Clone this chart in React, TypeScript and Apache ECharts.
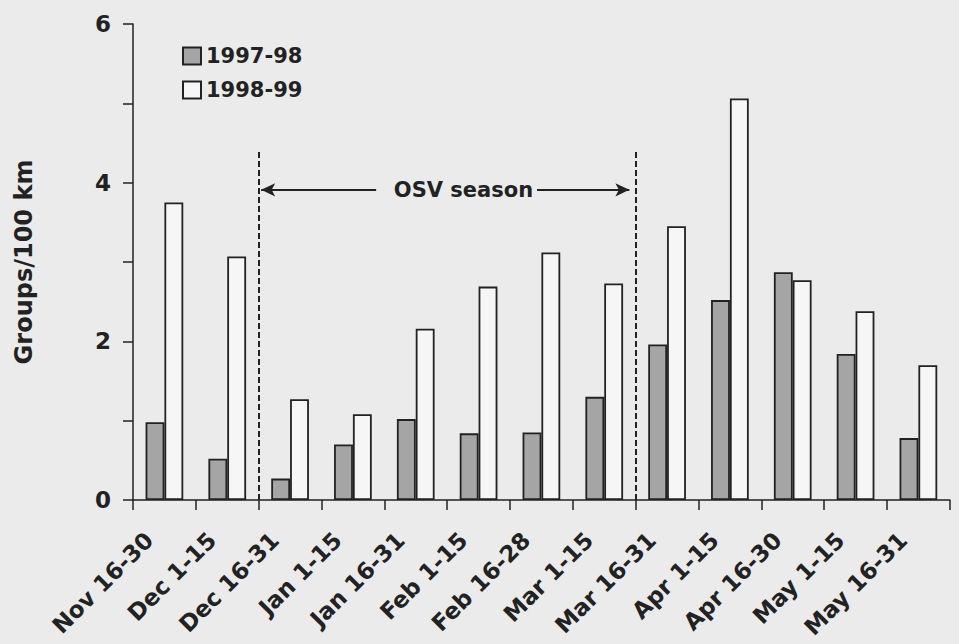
import React, { useEffect, useRef } from "react";
import * as echarts from "echarts";

const categories = [
  "Nov 16-30", "Dec 1-15", "Dec 16-31", "Jan 1-15", "Jan 16-31", "Feb 1-15",
  "Feb 16-28", "Mar 1-15", "Mar 16-31", "Apr 1-15", "Apr 16-30", "May 1-15", "May 16-31",
];
const season9798 = [0.98, 0.52, 0.27, 0.7, 1.02, 0.84, 0.85, 1.3, 1.96, 2.52, 2.87, 1.84, 0.78];
const season9899 = [3.75, 3.07, 1.27, 1.08, 2.16, 2.69, 3.12, 2.73, 3.45, 5.06, 2.77, 2.38, 1.7];
const seriesNames = ["1997-98", "1998-99"];
const yTicks = [0, 6, 2];
const osvStart = 2; // boundary index (Dec 16)
const osvEnd = 8; // boundary index (Mar 16)
const osvLabel = "OSV season";

const FONT = "'DejaVu Sans', 'Liberation Sans', Arial, sans-serif";

export default function App() {
  const ref = useRef<HTMLDivElement>(null);
  useEffect(() => {
    if (!ref.current) return;
    const chart = echarts.init(ref.current, null, { renderer: "svg" });
    const border = "#222";
    chart.setOption({
      animation: false,
      backgroundColor: "#ebebeb",
      textStyle: { fontFamily: FONT, fontWeight: "bold", color: "#222" },
      legend: {
        orient: "vertical",
        left: 182,
        top: 44,
        padding: 0,
        itemWidth: 18,
        itemHeight: 17,
        itemGap: 10,
        icon: "rect",
        data: seriesNames,
        textStyle: { fontFamily: FONT, fontWeight: "bold", fontSize: 21, color: "#222", lineHeight: 24 },
      },
      grid: { left: 133, top: 24, bottom: 144, right: -7, containLabel: false },
      xAxis: [
        {
          type: "category",
          data: categories,
          boundaryGap: true,
          axisLine: { lineStyle: { color: "#222", width: 1.5 } },
          axisTick: { show: true, interval: 0, length: 10, lineStyle: { color: "#222", width: 1.5 } },
          axisLabel: { show: false, interval: 0 },
          splitLine: { show: false },
        },
        {
          type: "value",
          min: 0,
          max: categories.length,
          interval: 1,
          position: "bottom",
          axisLine: { show: false },
          axisTick: { show: false },
          splitLine: { show: false },
          axisLabel: {
            show: true,
            rotate: 45,
            margin: 20,
            verticalAlign: "top",
            padding: [10, 0, 0, 0],
            lineHeight: 26,
            fontFamily: FONT,
            fontWeight: "bold",
            fontSize: 23,
            color: "#222",
            formatter: (v: number) => categories[Math.round(v)] ?? "",
          },
        },
      ],
      yAxis: {
        type: "value",
        min: yTicks[0],
        max: yTicks[1],
        interval: yTicks[2],
        name: "Groups/100 km",
        nameLocation: "middle",
        nameRotate: 90,
        nameGap: 97,
        nameTextStyle: { fontFamily: FONT, fontWeight: "bold", fontSize: 24, color: "#222" },
        axisLine: { show: true, lineStyle: { color: "#222", width: 1.5 } },
        axisTick: { show: true, length: 10, lineStyle: { color: "#222", width: 1.5 } },
        minorTick: { show: true, splitNumber: 2, length: 10, lineStyle: { color: "#222", width: 1.5 } },
        splitLine: { show: false },
        minorSplitLine: { show: false },
        axisLabel: {
          margin: 22,
          fontFamily: FONT,
          fontWeight: "bold",
          fontSize: 23,
          color: "#222",
        },
      },
      series: [
        {
          name: seriesNames[0],
          type: "bar",
          data: season9798,
          barGap: "0%",
          barCategoryGap: "40%",
          itemStyle: { color: "#a5a5a5", borderColor: border, borderWidth: 1.8 },
        },
        {
          name: seriesNames[1],
          type: "bar",
          data: season9899,
          barGap: "0%",
          barCategoryGap: "40%",
          itemStyle: { color: "#f6f6f6", borderColor: border, borderWidth: 1.8 },
        },
        {
          name: "annotations",
          type: "scatter",
          xAxisIndex: 1,
          data: [],
          silent: true,
          markLine: {
            silent: true,
            symbol: "none",
            label: { show: false },
            lineStyle: { color: "#222", width: 2, type: [6, 3] },
            data: [
              [{ coord: [osvStart, 0] }, { coord: [osvStart, 4.39] }],
              [{ coord: [osvEnd, 0] }, { coord: [osvEnd, 4.39] }],
              [
                { coord: [3.87, 3.91], symbol: "none", lineStyle: { type: "solid", width: 1.8 } },
                { coord: [osvStart + 0.04, 3.91], symbol: "arrow", symbolSize: [10, 14], lineStyle: { type: "solid", width: 1.8 } },
              ],
              [
                { coord: [6.43, 3.91], symbol: "none", lineStyle: { type: "solid", width: 1.8 } },
                { coord: [osvEnd - 0.1, 3.91], symbol: "arrow", symbolSize: [10, 14], lineStyle: { type: "solid", width: 1.8 } },
              ],
            ],
          },
          markPoint: {
            silent: true,
            symbol: "rect",
            symbolSize: 0,
            label: {
              show: true,
              position: "inside",
              formatter: osvLabel,
              fontFamily: FONT,
              fontWeight: "bold",
              fontSize: 21,
              color: "#222",
            },
            data: [{ coord: [5.26, 3.91] }],
          },
        },
      ],
    });
    return () => chart.dispose();
  }, []);
  return (
    <div
      ref={ref}
      style={{ position: "absolute", left: 0, top: 0, width: 959, height: 644, background: "#ebebeb" }}
    />
  );
}
